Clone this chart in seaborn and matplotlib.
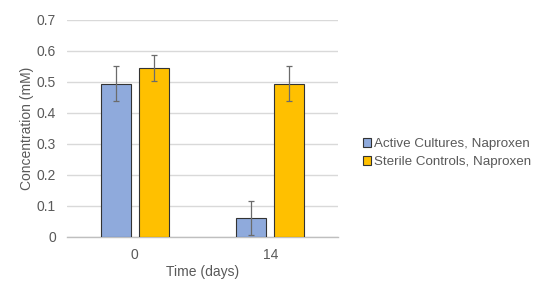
import matplotlib
matplotlib.use("Agg")
import matplotlib.pyplot as plt
import seaborn as sns
import pandas as pd
from matplotlib.patches import Patch

times = ["0", "14"]
series = ["Active Cultures, Naproxen", "Sterile Controls, Naproxen"]
active = [0.495, 0.06]
sterile = [0.545, 0.495]
active_err = [0.057, 0.055]
sterile_err = [0.043, 0.057]
colors = ["#8faadc", "#ffc000"]

df = pd.DataFrame({
    "time": times * 2,
    "series": [series[0]] * 2 + [series[1]] * 2,
    "conc": active + sterile,
    "err": active_err + sterile_err,
})

sns.set_style("white")
plt.rcParams["font.family"] = ["Liberation Sans", "DejaVu Sans"]
txt = "#595959"

fig = plt.figure(figsize=(5.47, 2.89), dpi=100)
ax = fig.add_axes([0.1225, 0.18, 0.4955, 0.751])

sns.barplot(data=df, x="time", y="conc", hue="series", palette=colors,
            saturation=1, width=0.56, gap=0.21, edgecolor="#333333",
            linewidth=0.8, errorbar=None, legend=False, ax=ax, zorder=3)

# error bars at the bar centres seaborn placed
errs = df.sort_values(["series", "time"])["err"].tolist()
for patch, e in zip(ax.patches, errs):
    cx = patch.get_x() + patch.get_width() / 2
    ax.errorbar(cx, patch.get_height(), yerr=e, color="#6b6b6b",
                elinewidth=0.9, capsize=2.5, capthick=0.9, zorder=4)

ax.set_ylim(0, 0.7)
ax.set_xlim(-0.5, 1.5)
ax.set_yticks([0, 0.1, 0.2, 0.3, 0.4, 0.5, 0.6, 0.7])
ax.set_yticklabels(["0", "0.1", "0.2", "0.3", "0.4", "0.5", "0.6", "0.7"])
ax.yaxis.grid(True, color="#d9d9d9", linewidth=1, zorder=0)
ax.set_axisbelow(True)
for s in ["left", "right", "top"]:
    ax.spines[s].set_visible(False)
ax.spines["bottom"].set_color("#bfbfbf")
ax.spines["bottom"].set_linewidth(1)
ax.tick_params(axis="both", length=0, labelsize=10, colors=txt, pad=8)
ax.set_xlabel("Time (days)", fontsize=10, color=txt, labelpad=2)
ax.set_ylabel("Concentration (mM)", fontsize=10, color=txt, labelpad=2)

handles = [Patch(facecolor=c, edgecolor="#333333", linewidth=0.8) for c in colors]
fig.legend(handles, series, loc="center left", bbox_to_anchor=(0.652, 0.47),
           frameon=False, fontsize=9.6, labelcolor=txt, handlelength=0.6,
           handleheight=0.6, handletextpad=0.2, labelspacing=0.45,
           borderpad=0)

fig.savefig("out.png", dpi=100)
